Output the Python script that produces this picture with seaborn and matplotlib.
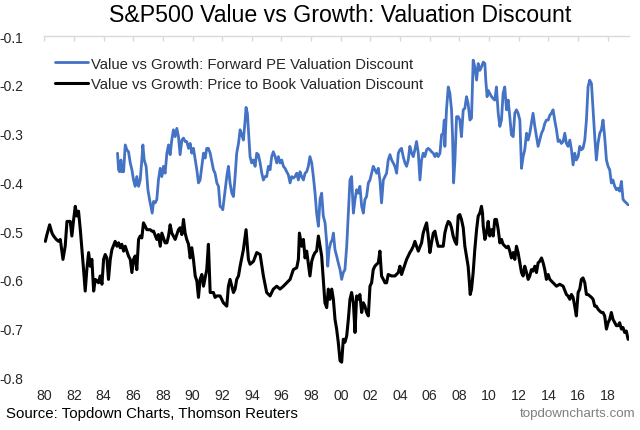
import matplotlib
matplotlib.use("Agg")
import matplotlib.pyplot as plt
import seaborn as sns
import pandas as pd
import numpy as np

# ---------------- data ----------------
pb_years = [
    1980.07, 1980.18, 1980.36, 1980.52, 1980.63, 1980.81, 1980.97, 1981.08, 1981.26, 1981.41,
    1981.53, 1981.75, 1981.86, 1981.98, 1982.09, 1982.20, 1982.31, 1982.43, 1982.54, 1982.65,
    1982.76, 1982.87, 1982.99, 1983.10, 1983.21, 1983.33, 1983.44, 1983.55, 1983.66, 1983.77,
    1983.89, 1984.00, 1984.11, 1984.22, 1984.33, 1984.45, 1984.56, 1984.78, 1984.90, 1985.01,
    1985.12, 1985.23, 1985.35, 1985.46, 1985.57, 1985.68, 1985.80, 1985.91, 1986.02, 1986.13,
    1986.24, 1986.36, 1986.47, 1986.58, 1986.69, 1986.81, 1986.92, 1987.14, 1987.26, 1987.37,
    1987.59, 1987.70, 1987.82, 1987.93, 1988.04, 1988.15, 1988.27, 1988.38, 1988.49, 1988.60,
    1988.71, 1988.83, 1988.94, 1989.05, 1989.16, 1989.28, 1989.39, 1989.50, 1989.61, 1989.73,
    1989.84, 1989.95, 1990.06, 1990.18, 1990.29, 1990.40, 1990.51, 1990.63, 1990.74, 1990.96,
    1991.07, 1991.19, 1991.41, 1991.52, 1991.64, 1991.86, 1992.08, 1992.31, 1992.42, 1992.53,
    1992.65, 1992.76, 1992.87, 1992.98, 1993.10, 1993.21, 1993.43, 1993.61, 1993.77, 1993.88,
    1994.11, 1994.33, 1994.56, 1994.78, 1995.00, 1995.23, 1995.45, 1995.68, 1995.90, 1996.13,
    1996.35, 1996.58, 1996.80, 1997.03, 1997.14, 1997.21, 1997.36, 1997.48, 1997.59, 1997.70,
    1997.92, 1998.04, 1998.15, 1998.26, 1998.37, 1998.49, 1998.60, 1998.71, 1998.82, 1998.93,
    1999.05, 1999.16, 1999.27, 1999.39, 1999.50, 1999.61, 1999.72, 1999.83, 1999.95, 2000.06,
    2000.17, 2000.28, 2000.40, 2000.51, 2000.62, 2000.73, 2000.85, 2000.96, 2001.07, 2001.18,
    2001.29, 2001.41, 2001.52, 2001.63, 2001.74, 2001.86, 2001.97, 2002.08, 2002.19, 2002.30,
    2002.42, 2002.53, 2002.64, 2002.75, 2002.87, 2002.98, 2003.09, 2003.20, 2003.43, 2003.65,
    2003.88, 2003.99, 2004.10, 2004.21, 2004.44, 2004.66, 2004.78, 2004.89, 2005.00, 2005.11,
    2005.23, 2005.45, 2005.56, 2005.67, 2005.79, 2005.90, 2006.01, 2006.12, 2006.24, 2006.35,
    2006.46, 2006.57, 2006.80, 2006.91, 2007.02, 2007.13, 2007.25, 2007.36, 2007.47, 2007.58,
    2007.70, 2007.81, 2007.92, 2008.03, 2008.14, 2008.26, 2008.37, 2008.48, 2008.59, 2008.66,
    2008.73, 2008.82, 2008.93, 2009.04, 2009.16, 2009.27, 2009.38, 2009.49, 2009.56, 2009.61,
    2009.72, 2009.83, 2009.94, 2010.05, 2010.17, 2010.28, 2010.39, 2010.50, 2010.62, 2010.73,
    2010.84, 2010.95, 2011.18, 2011.29, 2011.40, 2011.51, 2011.63, 2011.74, 2011.85, 2011.96,
    2012.08, 2012.19, 2012.30, 2012.41, 2012.53, 2012.64, 2012.75, 2012.86, 2012.97, 2013.09,
    2013.20, 2013.31, 2013.42, 2013.54, 2013.65, 2013.76, 2013.87, 2013.99, 2014.10, 2014.32,
    2014.55, 2014.77, 2015.00, 2015.22, 2015.33, 2015.45, 2015.56, 2015.67, 2015.78, 2015.89,
    2016.01, 2016.12, 2016.23, 2016.34, 2016.46, 2016.57, 2016.68, 2016.79, 2016.91, 2017.02,
    2017.13, 2017.24, 2017.35, 2017.47, 2017.58, 2017.69, 2017.80, 2017.92, 2018.03, 2018.14,
    2018.25, 2018.36, 2018.48, 2018.59, 2018.70, 2018.81, 2018.93, 2019.04, 2019.15, 2019.26,
    2019.38,
]
pb_values = [
    -0.521, -0.507, -0.487, -0.504, -0.510, -0.517, -0.521, -0.517, -0.558, -0.531,
    -0.480, -0.480, -0.510, -0.476, -0.449, -0.469, -0.459, -0.497, -0.538, -0.579,
    -0.623, -0.579, -0.544, -0.572, -0.558, -0.623, -0.599, -0.602, -0.606, -0.592,
    -0.609, -0.558, -0.548, -0.555, -0.599, -0.558, -0.538, -0.521, -0.531, -0.524,
    -0.534, -0.527, -0.541, -0.531, -0.541, -0.551, -0.558, -0.585, -0.558, -0.551,
    -0.579, -0.517, -0.510, -0.514, -0.483, -0.490, -0.497, -0.497, -0.500, -0.500,
    -0.517, -0.507, -0.531, -0.504, -0.514, -0.524, -0.524, -0.510, -0.487, -0.504,
    -0.510, -0.517, -0.507, -0.497, -0.493, -0.507, -0.476, -0.504, -0.517, -0.527,
    -0.555, -0.534, -0.558, -0.592, -0.602, -0.636, -0.599, -0.589, -0.613, -0.579,
    -0.527, -0.626, -0.626, -0.636, -0.633, -0.633, -0.647, -0.654, -0.613, -0.599,
    -0.613, -0.626, -0.619, -0.599, -0.592, -0.572, -0.538, -0.497, -0.558, -0.568,
    -0.562, -0.544, -0.548, -0.592, -0.626, -0.633, -0.619, -0.613, -0.619, -0.613,
    -0.606, -0.599, -0.579, -0.575, -0.558, -0.504, -0.531, -0.517, -0.555, -0.541,
    -0.592, -0.562, -0.551, -0.544, -0.541, -0.510, -0.531, -0.551, -0.599, -0.647,
    -0.657, -0.619, -0.640, -0.619, -0.640, -0.681, -0.701, -0.728, -0.766, -0.769,
    -0.722, -0.728, -0.715, -0.681, -0.640, -0.626, -0.647, -0.708, -0.633, -0.640,
    -0.630, -0.667, -0.647, -0.654, -0.667, -0.674, -0.613, -0.606, -0.579, -0.572,
    -0.568, -0.565, -0.541, -0.592, -0.599, -0.606, -0.606, -0.589, -0.592, -0.592,
    -0.585, -0.572, -0.589, -0.579, -0.558, -0.544, -0.538, -0.531, -0.521, -0.531,
    -0.541, -0.524, -0.504, -0.493, -0.483, -0.510, -0.544, -0.524, -0.504, -0.500,
    -0.517, -0.531, -0.531, -0.531, -0.504, -0.490, -0.480, -0.483, -0.493, -0.510,
    -0.521, -0.527, -0.469, -0.466, -0.476, -0.493, -0.531, -0.551, -0.572, -0.599,
    -0.630, -0.619, -0.585, -0.538, -0.497, -0.469, -0.463, -0.449, -0.463, -0.490,
    -0.517, -0.504, -0.480, -0.510, -0.497, -0.510, -0.476, -0.476, -0.497, -0.524,
    -0.517, -0.527, -0.534, -0.531, -0.541, -0.555, -0.544, -0.558, -0.531, -0.544,
    -0.565, -0.585, -0.592, -0.572, -0.585, -0.599, -0.592, -0.579, -0.582, -0.572,
    -0.585, -0.565, -0.562, -0.555, -0.565, -0.579, -0.599, -0.589, -0.599, -0.606,
    -0.613, -0.609, -0.613, -0.630, -0.633, -0.640, -0.630, -0.636, -0.654, -0.674,
    -0.626, -0.619, -0.599, -0.596, -0.606, -0.630, -0.630, -0.633, -0.636, -0.640,
    -0.654, -0.654, -0.660, -0.664, -0.667, -0.667, -0.674, -0.701, -0.688, -0.681,
    -0.667, -0.681, -0.688, -0.694, -0.694, -0.688, -0.701, -0.698, -0.708, -0.705,
    -0.722,
]

pe_years = [
    1984.94, 1985.01, 1985.08, 1985.17, 1985.23, 1985.35, 1985.46, 1985.57, 1985.68, 1985.80,
    1985.91, 1986.02, 1986.13, 1986.24, 1986.36, 1986.47, 1986.58, 1986.65, 1986.74, 1986.87,
    1986.99, 1987.10, 1987.19, 1987.28, 1987.37, 1987.48, 1987.59, 1987.70, 1987.82, 1987.93,
    1988.04, 1988.15, 1988.27, 1988.38, 1988.49, 1988.60, 1988.71, 1988.83, 1988.94, 1989.05,
    1989.16, 1989.28, 1989.39, 1989.50, 1989.61, 1989.73, 1989.84, 1989.95, 1990.06, 1990.29,
    1990.40, 1990.51, 1990.63, 1990.74, 1990.85, 1990.96, 1991.07, 1991.19, 1991.41, 1991.52,
    1991.64, 1991.75, 1991.86, 1991.97, 1992.04, 1992.20, 1992.31, 1992.42, 1992.53, 1992.65,
    1992.76, 1992.87, 1992.98, 1993.10, 1993.21, 1993.32, 1993.43, 1993.55, 1993.61, 1993.70,
    1993.77, 1993.88, 1993.99, 1994.11, 1994.22, 1994.33, 1994.44, 1994.56, 1994.67, 1994.78,
    1994.89, 1995.00, 1995.12, 1995.23, 1995.34, 1995.45, 1995.57, 1995.68, 1995.79, 1995.90,
    1996.02, 1996.13, 1996.24, 1996.35, 1996.46, 1996.58, 1996.69, 1996.80, 1996.91, 1997.03,
    1997.14, 1997.25, 1997.36, 1997.48, 1997.59, 1997.70, 1997.81, 1997.92, 1998.04, 1998.15,
    1998.26, 1998.37, 1998.49, 1998.60, 1998.71, 1998.82, 1998.94, 1999.05, 1999.12, 1999.21,
    1999.32, 1999.43, 1999.50, 1999.61, 1999.72, 1999.83, 1999.95, 2000.06, 2000.17, 2000.28,
    2000.40, 2000.51, 2000.62, 2000.73, 2000.85, 2000.96, 2001.07, 2001.18, 2001.29, 2001.41,
    2001.52, 2001.63, 2001.74, 2001.86, 2001.97, 2002.08, 2002.19, 2002.30, 2002.42, 2002.53,
    2002.64, 2002.75, 2002.87, 2002.98, 2003.09, 2003.20, 2003.32, 2003.43, 2003.54, 2003.65,
    2003.77, 2003.88, 2003.99, 2004.10, 2004.21, 2004.33, 2004.44, 2004.55, 2004.66, 2004.78,
    2004.89, 2005.00, 2005.11, 2005.23, 2005.34, 2005.45, 2005.56, 2005.67, 2005.79, 2005.90,
    2006.01, 2006.12, 2006.24, 2006.35, 2006.46, 2006.57, 2006.69, 2006.80, 2006.91, 2006.98,
    2007.02, 2007.13, 2007.25, 2007.36, 2007.47, 2007.54, 2007.61, 2007.70, 2007.81, 2007.92,
    2008.03, 2008.14, 2008.26, 2008.37, 2008.48, 2008.59, 2008.71, 2008.82, 2008.93, 2009.04,
    2009.16, 2009.27, 2009.38, 2009.49, 2009.61, 2009.72, 2009.78, 2009.87, 2009.94, 2010.05,
    2010.17, 2010.28, 2010.39, 2010.50, 2010.62, 2010.73, 2010.84, 2010.95, 2011.06, 2011.18,
    2011.29, 2011.40, 2011.51, 2011.63, 2011.74, 2011.85, 2011.96, 2012.08, 2012.19, 2012.30,
    2012.41, 2012.53, 2012.64, 2012.75, 2012.86, 2012.97, 2013.09, 2013.20, 2013.31, 2013.42,
    2013.54, 2013.65, 2013.76, 2013.87, 2013.99, 2014.10, 2014.21, 2014.32, 2014.43, 2014.55,
    2014.66, 2014.77, 2014.88, 2015.00, 2015.11, 2015.22, 2015.33, 2015.45, 2015.56, 2015.67,
    2015.78, 2015.89, 2016.01, 2016.12, 2016.23, 2016.34, 2016.46, 2016.57, 2016.68, 2016.79,
    2016.91, 2017.02, 2017.13, 2017.24, 2017.35, 2017.47, 2017.58, 2017.69, 2017.80, 2017.92,
    2018.03, 2018.14, 2018.25, 2018.36, 2018.48, 2018.59, 2018.70, 2018.81, 2018.93, 2019.04,
    2019.15, 2019.26, 2019.38,
]
pe_values = [
    -0.340, -0.374, -0.378, -0.354, -0.378, -0.378, -0.323, -0.333, -0.337, -0.360,
    -0.374, -0.395, -0.408, -0.388, -0.408, -0.395, -0.354, -0.323, -0.354, -0.367,
    -0.415, -0.435, -0.449, -0.463, -0.439, -0.442, -0.435, -0.395, -0.371, -0.388,
    -0.367, -0.381, -0.340, -0.323, -0.343, -0.313, -0.292, -0.306, -0.289, -0.306,
    -0.343, -0.313, -0.309, -0.316, -0.316, -0.330, -0.320, -0.340, -0.330, -0.374,
    -0.401, -0.395, -0.367, -0.340, -0.350, -0.330, -0.330, -0.340, -0.374, -0.381,
    -0.401, -0.408, -0.449, -0.452, -0.456, -0.415, -0.388, -0.367, -0.401, -0.422,
    -0.429, -0.388, -0.340, -0.320, -0.292, -0.302, -0.313, -0.272, -0.246, -0.258,
    -0.292, -0.347, -0.360, -0.354, -0.367, -0.340, -0.343, -0.360, -0.381, -0.395,
    -0.388, -0.388, -0.367, -0.374, -0.347, -0.337, -0.347, -0.360, -0.347, -0.360,
    -0.354, -0.367, -0.371, -0.378, -0.384, -0.401, -0.388, -0.391, -0.388, -0.381,
    -0.395, -0.378, -0.388, -0.395, -0.381, -0.378, -0.367, -0.347, -0.360, -0.388,
    -0.420, -0.463, -0.490, -0.435, -0.422, -0.469, -0.483, -0.524, -0.572, -0.538,
    -0.524, -0.517, -0.504, -0.538, -0.551, -0.565, -0.579, -0.599, -0.585, -0.579,
    -0.531, -0.463, -0.395, -0.388, -0.463, -0.435, -0.415, -0.422, -0.408, -0.449,
    -0.463, -0.435, -0.429, -0.401, -0.395, -0.381, -0.367, -0.374, -0.381, -0.371,
    -0.395, -0.442, -0.395, -0.388, -0.381, -0.354, -0.343, -0.354, -0.360, -0.367,
    -0.381, -0.340, -0.333, -0.330, -0.347, -0.360, -0.367, -0.354, -0.326, -0.340,
    -0.347, -0.333, -0.316, -0.340, -0.395, -0.354, -0.340, -0.347, -0.333, -0.330,
    -0.333, -0.337, -0.340, -0.347, -0.340, -0.347, -0.340, -0.302, -0.299, -0.272,
    -0.326, -0.251, -0.204, -0.217, -0.251, -0.306, -0.401, -0.354, -0.265, -0.265,
    -0.272, -0.306, -0.251, -0.248, -0.224, -0.238, -0.272, -0.268, -0.149, -0.163,
    -0.190, -0.156, -0.170, -0.163, -0.153, -0.156, -0.190, -0.224, -0.211, -0.217,
    -0.224, -0.228, -0.231, -0.204, -0.258, -0.285, -0.272, -0.217, -0.204, -0.251,
    -0.231, -0.265, -0.302, -0.306, -0.258, -0.251, -0.258, -0.272, -0.371, -0.347,
    -0.333, -0.299, -0.313, -0.299, -0.279, -0.258, -0.285, -0.306, -0.326, -0.313,
    -0.299, -0.292, -0.279, -0.272, -0.272, -0.262, -0.258, -0.251, -0.272, -0.292,
    -0.316, -0.313, -0.320, -0.316, -0.299, -0.320, -0.326, -0.313, -0.333, -0.364,
    -0.340, -0.354, -0.347, -0.326, -0.333, -0.330, -0.313, -0.272, -0.204, -0.190,
    -0.197, -0.251, -0.306, -0.354, -0.320, -0.299, -0.292, -0.272, -0.306, -0.354,
    -0.367, -0.374, -0.401, -0.395, -0.408, -0.415, -0.412, -0.418, -0.398, -0.435,
    -0.439, -0.442, -0.446,
]

label_pe = "Value vs Growth: Forward PE Valuation Discount"
label_pb = "Value vs Growth: Price to Book Valuation Discount"
title = "S&P500 Value vs Growth: Valuation Discount"
source = "Source: Topdown Charts, Thomson Reuters"
brand = "topdowncharts.com"
x_tick_years = list(range(1980, 2019, 2))
x_tick_labels = [f"{y % 100:02d}" for y in x_tick_years]
y_ticks = [-0.8, -0.7, -0.6, -0.5, -0.4, -0.3, -0.2, -0.1]
y_tick_labels = [f"{v:.1f}" for v in y_ticks]

# ---------------- plotting ----------------
sns.set_theme(style="white")
plt.rcParams["font.family"] = ["Liberation Sans", "DejaVu Sans"]

df_pe = pd.DataFrame({"year": pe_years, "value": pe_values})
df_pb = pd.DataFrame({"year": pb_years, "value": pb_values})

fig = plt.figure(figsize=(6.4, 4.31), dpi=100)
ax = fig.add_axes([0.0692, 0.1223, 0.9138, 0.7912])

sns.lineplot(data=df_pe, x="year", y="value", ax=ax, color="#4472C4",
             linewidth=2.0, label=label_pe, sort=False, estimator=None)
sns.lineplot(data=df_pb, x="year", y="value", ax=ax, color="#000000",
             linewidth=2.2, label=label_pb, sort=False, estimator=None)

ax.set_xlim(1980.0, 2019.45)
ax.set_ylim(-0.8, -0.1)
ax.set_xlabel("")
ax.set_ylabel("")

ax.set_xticks(x_tick_years)
ax.set_xticklabels(x_tick_labels)
ax.set_yticks(y_ticks)
ax.set_yticklabels(y_tick_labels)

for s in ["left", "right", "bottom"]:
    ax.spines[s].set_visible(False)
ax.spines["top"].set_visible(True)
ax.spines["top"].set_color("#D9D9D9")
ax.spines["top"].set_linewidth(1.0)

ax.tick_params(axis="x", which="major", bottom=False, top=True,
               labelbottom=True, labeltop=False, direction="in",
               length=3.3, width=1.0, color="#D9D9D9", labelsize=10.2,
               labelcolor="#262626", pad=7.5)
ax.tick_params(axis="y", left=False, right=False, labelsize=10.0,
               labelcolor="#262626", pad=9)
ax.grid(False)

leg = ax.legend(loc="upper left", bbox_to_anchor=(0.0085, 0.958), frameon=False,
                fontsize=10.7, handlelength=2.2, handletextpad=0.2,
                labelspacing=0.42, borderaxespad=0.0)
for t in leg.get_texts():
    t.set_color("#262626")

fig.text(0.531, 0.950, title, ha="center", va="baseline", fontsize=16.7,
         color="#000000")
fig.text(0.009, 0.039, source, ha="left", va="center", fontsize=10.8,
         color="#000000")
fig.text(0.993, 0.039, brand, ha="right", va="center", fontsize=9.6,
         color="#7F7F7F")

fig.savefig("out.png", dpi=100)
